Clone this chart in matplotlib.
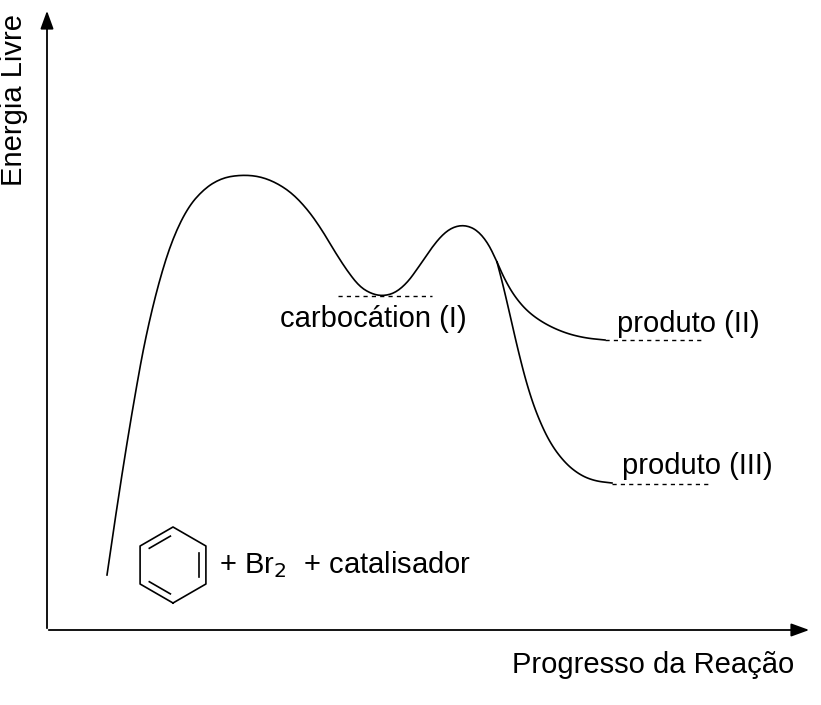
import matplotlib
matplotlib.use("Agg")
import matplotlib.pyplot as plt
import numpy as np

plt.rcParams['font.family'] = ['Liberation Sans', 'DejaVu Sans']

main_x = [107,115,125,135,145,158,172,188,205,222,240,258,275,292,308,322,335,348,360,372,383,395,407,418,430,442,453,465,477,488,497]
main_y = [575,520,455,395,340,285,240,207,188,178,175,176,182,193,210,230,252,272,287,294,296,293,283,268,250,235,227,225,230,243,262]
b2_x = [497,505,515,528,545,565,585,605]
b2_y = [262,280,297,312,324,333,338,340]
b3_x = [497,503,510,518,527,537,550,565,580,595,612]
b3_y = [262,285,315,350,385,415,443,463,475,481,483]
levels = [("carbocátion (I)", 338, 432, 296, 373, 319),
          ("produto (II)", 605, 705, 340, 688, 324),
          ("produto (III)", 612, 710, 484, 697, 466)]

def smooth(x, y, n=3):
    p = np.column_stack([x, y]).astype(float)
    for _ in range(n):
        q = [p[0]]
        for a, b in zip(p[:-1], p[1:]):
            q.append(0.75*a+0.25*b); q.append(0.25*a+0.75*b)
        q.append(p[-1]); p = np.array(q)
    return p[:,0], p[:,1]

fig = plt.figure(figsize=(8.21,7.05), dpi=100)
ax = fig.add_axes([0,0,1,1])
ax.set_xlim(0,821); ax.set_ylim(705,0); ax.axis('off')

for xs, ys in [(main_x, main_y), (b2_x, b2_y), (b3_x, b3_y)]:
    sx, sy = smooth(xs, ys)
    ax.plot(sx, sy, color='black', lw=1.2)

for lab, x0, x1, y, tx, ty in levels:
    ax.plot([x0,x1],[y,y], color='black', lw=1, ls=(0,(3,3)))
    ax.text(tx, ty, lab, fontsize=21, ha='center', va='center')

ax.annotate('', xy=(47,8), xytext=(47,631), arrowprops=dict(arrowstyle='-|>,head_width=0.4,head_length=1.1', color='black', lw=1.3))
ax.annotate('', xy=(812,630), xytext=(46,630), arrowprops=dict(arrowstyle='-|>,head_width=0.4,head_length=1.1', color='black', lw=1.3))
ax.text(14, 100, 'Energia Livre', fontsize=21, rotation=90, ha='center', va='center')
ax.text(653, 665, 'Progresso da Reação', fontsize=21, ha='center', va='center')

# benzene
cx, cy, r = 173, 565, 38
ang = np.deg2rad(np.arange(0, 361, 60) + 90)
hx, hy = cx + r*np.cos(ang), cy + r*np.sin(ang)
ax.plot(hx, hy, color='black', lw=1.2)
ri = r*0.8
for i in [0, 2, 4]:
    a1, a2 = ang[i], ang[i+1]
    p1 = np.array([cx+ri*np.cos(a1), cy+ri*np.sin(a1)])
    p2 = np.array([cx+ri*np.cos(a2), cy+ri*np.sin(a2)])
    m = (p1+p2)/2; d = p2-p1
    p1, p2 = m - 0.4*d, m + 0.4*d
    ax.plot([p1[0],p2[0]],[p1[1],p2[1]], color='black', lw=1.2)
ax.text(219, 565, '+ Br$_2$  + catalisador', fontsize=21, ha='left', va='center')

fig.savefig('out.png', dpi=100)
